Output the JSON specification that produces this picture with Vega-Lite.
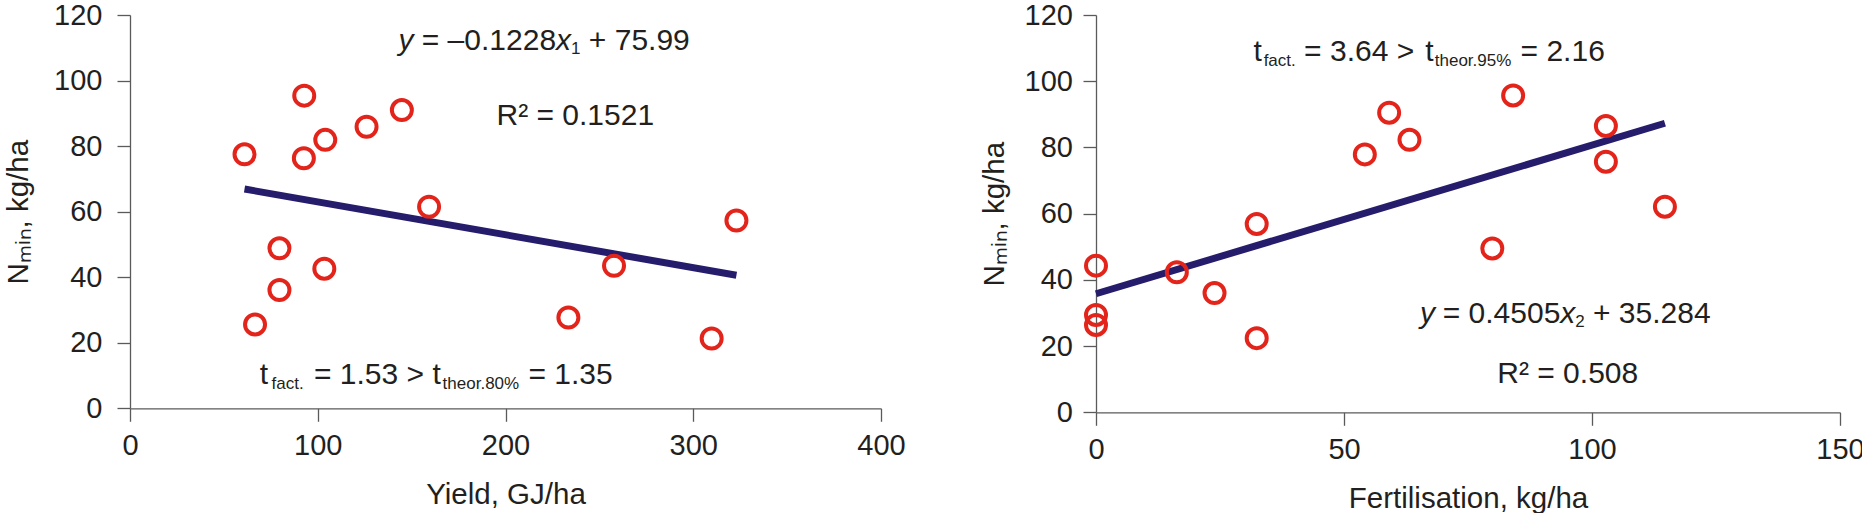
{
  "$schema": "https://vega.github.io/schema/vega-lite/v6.json",
  "padding": {"left": 3, "top": 1, "right": 0, "bottom": 0},
  "spacing": 73,
  "background": "white",
  "config": {
    "font": "Liberation Sans",
    "view": {"stroke": null},
    "axis": {
      "grid": false,
      "labelFlush": false,
      "labelOverlap": false,
      "domainColor": "#5a5a5a",
      "domainWidth": 1.3,
      "tickColor": "#5a5a5a",
      "tickWidth": 1.3,
      "tickSize": 13,
      "labelFont": "Liberation Sans",
      "labelFontSize": 29,
      "labelColor": "#231f20",
      "titleFont": "Liberation Sans",
      "titleFontSize": 29.5,
      "titleFontWeight": "normal",
      "titleColor": "#231f20"
    },
    "text": {"font": "Liberation Sans", "color": "#231f20"}
  },
  "datasets": {
    "yield": [
      {"yield": 61.0, "nmin": 77.5},
      {"yield": 92.8, "nmin": 95.4},
      {"yield": 92.6, "nmin": 76.3},
      {"yield": 104.0, "nmin": 81.9},
      {"yield": 126.0, "nmin": 85.9},
      {"yield": 144.8, "nmin": 91.0},
      {"yield": 159.3, "nmin": 61.5},
      {"yield": 79.6, "nmin": 48.8},
      {"yield": 79.6, "nmin": 36.1},
      {"yield": 103.5, "nmin": 42.6},
      {"yield": 66.6, "nmin": 25.6},
      {"yield": 233.5, "nmin": 27.7},
      {"yield": 257.8, "nmin": 43.5},
      {"yield": 309.8, "nmin": 21.3},
      {"yield": 323.0, "nmin": 57.3}
    ],
    "fert": [
      {"fert": 0, "nmin": 44.3},
      {"fert": 0, "nmin": 29.4},
      {"fert": 0, "nmin": 26.4},
      {"fert": 16.3, "nmin": 42.3},
      {"fert": 23.9, "nmin": 36.0},
      {"fert": 32.4, "nmin": 56.9},
      {"fert": 32.4, "nmin": 22.4},
      {"fert": 54.2, "nmin": 77.9},
      {"fert": 59.1, "nmin": 90.5},
      {"fert": 63.2, "nmin": 82.3},
      {"fert": 79.9, "nmin": 49.5},
      {"fert": 84.1, "nmin": 95.7},
      {"fert": 102.8, "nmin": 86.5},
      {"fert": 102.8, "nmin": 75.7},
      {"fert": 114.7, "nmin": 62.1}
    ],
    "trend_yield": [
      {"yield": 61, "nmin": 66.9},
      {"yield": 323, "nmin": 40.6}
    ],
    "trend_fert": [
      {"fert": 0, "nmin": 35.8},
      {"fert": 114.7, "nmin": 87.3}
    ],
    "notes_left": [
      {"kind": "italic", "text": "y", "x": 143.0, "y": 109.3},
      {"kind": "main", "text": "= –0.1228", "x": 155.4, "y": 109.3},
      {"kind": "italic", "text": "x", "x": 226.9, "y": 109.3},
      {"kind": "sub", "text": "1", "x": 234.9, "y": 108.1},
      {"kind": "main", "text": "+ 75.99", "x": 244.4, "y": 109.3},
      {"kind": "main", "text": "R² = 0.1521", "x": 195.2, "y": 86.4},
      {"kind": "main", "text": "t", "x": 69.1, "y": 7.4},
      {"kind": "sub", "text": "fact.", "x": 75.4, "y": 5.9},
      {"kind": "main", "text": "= 1.53 >", "x": 98.0, "y": 7.4},
      {"kind": "main", "text": "t", "x": 161.1, "y": 7.4},
      {"kind": "sub", "text": "theor.80%", "x": 166.5, "y": 5.9},
      {"kind": "main", "text": "= 1.35", "x": 212.2, "y": 7.4}
    ],
    "notes_right": [
      {"kind": "main", "text": "t", "x": 31.75, "y": 106.1},
      {"kind": "sub", "text": "fact.", "x": 33.8, "y": 104.6},
      {"kind": "main", "text": "= 3.64 >", "x": 41.96, "y": 106.1},
      {"kind": "main", "text": "t", "x": 66.4, "y": 106.1},
      {"kind": "sub", "text": "theor.95%", "x": 68.3, "y": 104.6},
      {"kind": "main", "text": "= 2.16", "x": 85.6, "y": 106.1},
      {"kind": "italic", "text": "y", "x": 65.3, "y": 27.06},
      {"kind": "main", "text": "= 0.4505", "x": 69.9, "y": 27.06},
      {"kind": "italic", "text": "x", "x": 93.6, "y": 27.06},
      {"kind": "sub", "text": "2", "x": 96.6, "y": 25.8},
      {"kind": "main", "text": "+ 35.284", "x": 100.2, "y": 27.06},
      {"kind": "main", "text": "R² = 0.508", "x": 80.9, "y": 8.94}
    ]
  },
  "hconcat": [
    {
      "width": 751,
      "height": 393.3,
      "layer": [
        {
          "data": {"name": "trend_yield"},
          "mark": {"type": "line", "color": "#261c6c", "strokeWidth": 7, "strokeCap": "butt"},
          "encoding": {
            "x": {"field": "yield", "type": "quantitative", "title": "Yield, GJ/ha",
                  "scale": {"domain": [0, 400], "nice": false},
                  "axis": {"values": [0, 100, 200, 300, 400], "labelPadding": 10, "titlePadding": 20}},
            "y": {"field": "nmin", "type": "quantitative", "title": "Nₘᵢₙ, kg/ha",
                  "scale": {"domain": [0, 120], "nice": false},
                  "axis": {"values": [0, 20, 40, 60, 80, 100, 120], "labelPadding": 15, "titlePadding": 20}}
          }
        },
        {
          "data": {"name": "yield"},
          "mark": {"type": "point", "shape": "circle", "filled": false, "color": "#e3241b", "strokeWidth": 4, "size": 400, "opacity": 1},
          "encoding": {
            "x": {"field": "yield", "type": "quantitative", "title": "Yield, GJ/ha"},
            "y": {"field": "nmin", "type": "quantitative", "title": "Nₘᵢₙ, kg/ha"}
          }
        },
        {
          "data": {"name": "notes_left"},
          "transform": [{"filter": "datum.kind === 'main'"}],
          "mark": {"type": "text", "align": "left", "baseline": "alphabetic", "fontSize": 30},
          "encoding": {
            "x": {"field": "x", "type": "quantitative", "title": "Yield, GJ/ha"},
            "y": {"field": "y", "type": "quantitative", "title": "Nₘᵢₙ, kg/ha"},
            "text": {"field": "text"}
          }
        },
        {
          "data": {"name": "notes_left"},
          "transform": [{"filter": "datum.kind === 'italic'"}],
          "mark": {"type": "text", "align": "left", "baseline": "alphabetic", "fontSize": 30, "fontStyle": "italic"},
          "encoding": {
            "x": {"field": "x", "type": "quantitative", "title": "Yield, GJ/ha"},
            "y": {"field": "y", "type": "quantitative", "title": "Nₘᵢₙ, kg/ha"},
            "text": {"field": "text"}
          }
        },
        {
          "data": {"name": "notes_left"},
          "transform": [{"filter": "datum.kind === 'sub'"}],
          "mark": {"type": "text", "align": "left", "baseline": "alphabetic", "fontSize": 17},
          "encoding": {
            "x": {"field": "x", "type": "quantitative", "title": "Yield, GJ/ha"},
            "y": {"field": "y", "type": "quantitative", "title": "Nₘᵢₙ, kg/ha"},
            "text": {"field": "text"}
          }
        }
      ]
    },
    {
      "width": 744,
      "height": 397.3,
      "layer": [
        {
          "data": {"name": "trend_fert"},
          "mark": {"type": "line", "color": "#261c6c", "strokeWidth": 7, "strokeCap": "butt"},
          "encoding": {
            "x": {"field": "fert", "type": "quantitative", "title": "Fertilisation, kg/ha",
                  "scale": {"domain": [0, 150], "nice": false},
                  "axis": {"values": [0, 50, 100, 150], "labelPadding": 10, "titlePadding": 20}},
            "y": {"field": "nmin", "type": "quantitative", "title": "Nₘᵢₙ, kg/ha",
                  "scale": {"domain": [0, 120], "nice": false},
                  "axis": {"values": [0, 20, 40, 60, 80, 100, 120], "labelPadding": 10.5, "titlePadding": 15}}
          }
        },
        {
          "data": {"name": "fert"},
          "mark": {"type": "point", "shape": "circle", "filled": false, "color": "#e3241b", "strokeWidth": 4, "size": 400, "opacity": 1},
          "encoding": {
            "x": {"field": "fert", "type": "quantitative", "title": "Fertilisation, kg/ha"},
            "y": {"field": "nmin", "type": "quantitative", "title": "Nₘᵢₙ, kg/ha"}
          }
        },
        {
          "data": {"name": "notes_right"},
          "transform": [{"filter": "datum.kind === 'main'"}],
          "mark": {"type": "text", "align": "left", "baseline": "alphabetic", "fontSize": 30},
          "encoding": {
            "x": {"field": "x", "type": "quantitative", "title": "Fertilisation, kg/ha"},
            "y": {"field": "y", "type": "quantitative", "title": "Nₘᵢₙ, kg/ha"},
            "text": {"field": "text"}
          }
        },
        {
          "data": {"name": "notes_right"},
          "transform": [{"filter": "datum.kind === 'italic'"}],
          "mark": {"type": "text", "align": "left", "baseline": "alphabetic", "fontSize": 30, "fontStyle": "italic"},
          "encoding": {
            "x": {"field": "x", "type": "quantitative", "title": "Fertilisation, kg/ha"},
            "y": {"field": "y", "type": "quantitative", "title": "Nₘᵢₙ, kg/ha"},
            "text": {"field": "text"}
          }
        },
        {
          "data": {"name": "notes_right"},
          "transform": [{"filter": "datum.kind === 'sub'"}],
          "mark": {"type": "text", "align": "left", "baseline": "alphabetic", "fontSize": 17},
          "encoding": {
            "x": {"field": "x", "type": "quantitative", "title": "Fertilisation, kg/ha"},
            "y": {"field": "y", "type": "quantitative", "title": "Nₘᵢₙ, kg/ha"},
            "text": {"field": "text"}
          }
        }
      ]
    }
  ]
}
